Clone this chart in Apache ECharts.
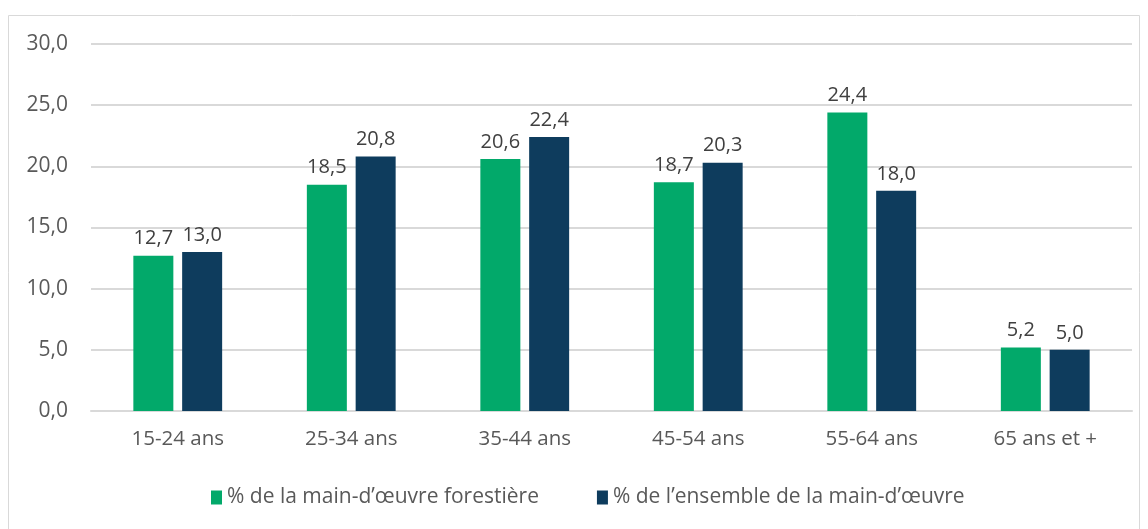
<!DOCTYPE html>
<html>
<head>
<meta charset="utf-8">
<script src="https://cdn.jsdelivr.net/npm/echarts@6/dist/echarts.min.js"></script>
<style>
  html, body { margin: 0; padding: 0; background: #fff; }
  #chart { width: 1148px; height: 529px; }
</style>
</head>
<body>
<div id="chart"></div>
<script>
// tranches d'âge
const categories = ['15-24 ans', '25-34 ans', '35-44 ans', '45-54 ans', '55-64 ans', '65 ans et +'];
const forestValues = [12.7, 18.5, 20.6, 18.7, 24.4, 5.2];
const totalValues = [13.0, 20.8, 22.4, 20.3, 18.0, 5.0];
const yTicks = { min: 0, max: 30, interval: 5 };

const seriesNames = ['% de la main-d’œuvre forestière', '% de l’ensemble de la main-d’œuvre'];
const colors = ['#02A96A', '#0E3C5D'];
const font = '"Open Sans", "Liberation Sans", sans-serif';

const fmt = v => v.toFixed(1).replace('.', ',');

const chart = echarts.init(document.getElementById('chart'));

const makeSeries = (name, data, color) => ({
  name: name,
  type: 'bar',
  data: data,
  barWidth: 40,
  barGap: '22%',
  itemStyle: { color: color },
  label: {
    show: true,
    position: 'top',
    distance: 7,
    color: '#404040',
    fontSize: 20,
    fontFamily: font,
    formatter: p => fmt(p.value)
  }
});

chart.setOption({
  animation: false,
  graphic: [{
    type: 'rect',
    shape: { x: 8.5, y: 15.5, width: 1131, height: 530 },
    style: { fill: 'none', stroke: '#d9d9d9', lineWidth: 1 },
    silent: true
  }],
  grid: { left: 91, right: 16, top: 44, bottom: 118 },
  legend: {
    top: 482,
    left: 206,
    itemWidth: 11,
    itemHeight: 14,
    itemGap: 58,
    icon: 'rect',
    textStyle: { color: '#595959', fontSize: 21, fontFamily: font },
    data: seriesNames
  },
  xAxis: {
    type: 'category',
    data: categories,
    axisLine: { lineStyle: { color: '#d9d9d9', width: 2 } },
    axisTick: { show: false },
    axisLabel: { color: '#595959', fontSize: 20.5, fontFamily: font, margin: 18 }
  },
  yAxis: {
    type: 'value',
    min: yTicks.min,
    max: yTicks.max,
    interval: yTicks.interval,
    axisLine: { show: false },
    axisTick: { show: false },
    splitLine: { lineStyle: { color: '#d9d9d9', width: 2 } },
    axisLabel: { color: '#595959', fontSize: 21, fontFamily: font, margin: 23, formatter: v => fmt(v) }
  },
  series: [
    makeSeries(seriesNames[0], forestValues, colors[0]),
    makeSeries(seriesNames[1], totalValues, colors[1])
  ]
});
</script>
</body>
</html>
